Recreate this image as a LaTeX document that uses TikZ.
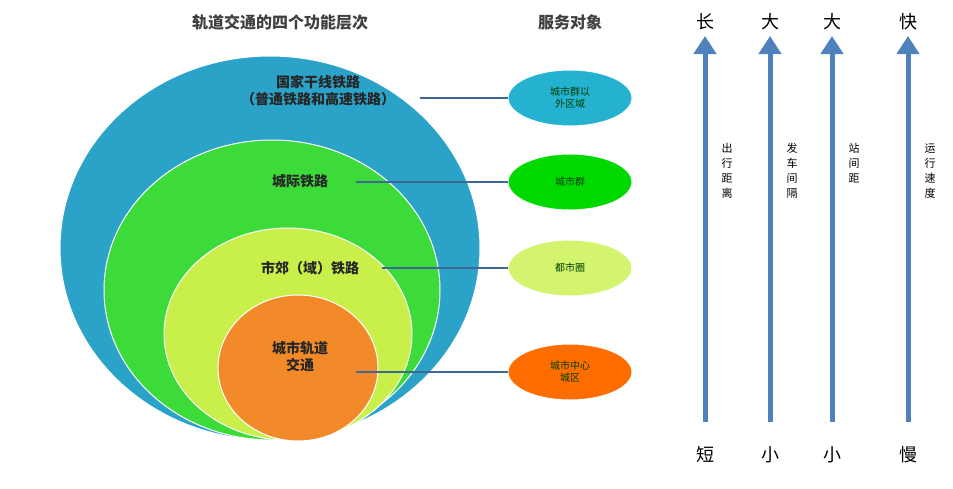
\documentclass[tikz,border=0pt]{standalone}
\usepackage{fontspec}
\newfontfamily\cjk{Noto Sans CJK SC}
\usetikzlibrary{arrows.meta}
\usetikzlibrary{shapes.geometric}
\definecolor{ringblue}{HTML}{2BA3C8}
\definecolor{ringgreen}{HTML}{3DDB3A}
\definecolor{ringlime}{HTML}{C9F04A}
\definecolor{ringorange}{HTML}{F28A2A}
\definecolor{axisblue}{HTML}{4F81BD}
\tikzset{
  lbl/.style={font=\cjk\bfseries\fontsize{14}{17}\selectfont,align=center,text=black!85},
  head/.style={font=\cjk\bfseries\fontsize{16}{18}\selectfont,text=black!75},
  tag/.style={ellipse,draw=white,line width=1pt,minimum width=124pt,minimum height=56pt,font=\cjk\fontsize{10}{12}\selectfont,align=center,inner sep=0pt,text=black!75!green},
  link/.style={draw=axisblue!80!black,line width=1.2pt},
  axis/.style={draw=axisblue,line width=5pt,-{Triangle[length=18pt,width=22pt]}},
  side/.style={font=\cjk\fontsize{11}{15}\selectfont,align=center},
  ends/.style={font=\cjk\fontsize{18}{20}\selectfont}
}
\begin{document}
\begin{tikzpicture}[x=1pt,y=-1pt]
\useasboundingbox (0,0) rectangle (953,488);
% rings
\fill[ringblue,draw=white,line width=1pt] (270,248) ellipse (210 and 192);
\fill[ringgreen,draw=white,line width=1pt] (272,290) ellipse (168 and 150);
\fill[ringlime,draw=white,line width=1pt] (288,334) ellipse (124 and 106);
\fill[ringorange,draw=white,line width=1pt] (298,368) ellipse (80 and 73);
\node[head] (title) at (280,22) {轨道交通的四个功能层次};
\node[head] (svc) at (570,22) {服务对象};
\node[lbl] (l1) at (318,91) {国家干线铁路\\（普通铁路和高速铁路）};
\node[lbl] (l2) at (300,181) {城际铁路};
\node[lbl] (l3) at (310,268) {市郊（域）铁路};
\node[lbl] (l4) at (300,357) {城市轨道\\交通};
% service areas
\node[tag,fill=ringblue!85!cyan] (s1) at (570,98) {城市群以\\外区域};
\node[tag,fill=green!85!black] (s2) at (570,182) {城市群};
\node[tag,fill=ringlime!80!white] (s3) at (570,268) {都市圈};
\node[tag,fill=orange!85!red] (s4) at (570,372) {城市中心\\城区};
\coordinate (c1) at (420,98);
\coordinate (c2) at (356,182);
\coordinate (c3) at (382,268);
\coordinate (c4) at (356,372);
\draw[link] (c1) -- (s1);
\draw[link] (c2) -- (s2);
\draw[link] (c3) -- (s3);
\draw[link] (c4) -- (s4);
% axes
\foreach \x/\top/\bot/\txt [count=\i] in {705/长/短/{出\\行\\距\\离},770/大/小/{发\\车\\间\\隔},832/大/小/{站\\间\\距},908/快/慢/{运\\行\\速\\度}}{
  \node[ends] (t\i) at (\x,22) {\top};
  \node[ends] (b\i) at (\x,455) {\bot};
  \coordinate (a\i) at (\x,422);
  \coordinate (e\i) at (\x,36);
  \draw[axis] (a\i) -- (e\i);
  \node[side,anchor=north] (d\i) at (\x+22,140) {\txt};
}
\end{tikzpicture}
\end{document}
